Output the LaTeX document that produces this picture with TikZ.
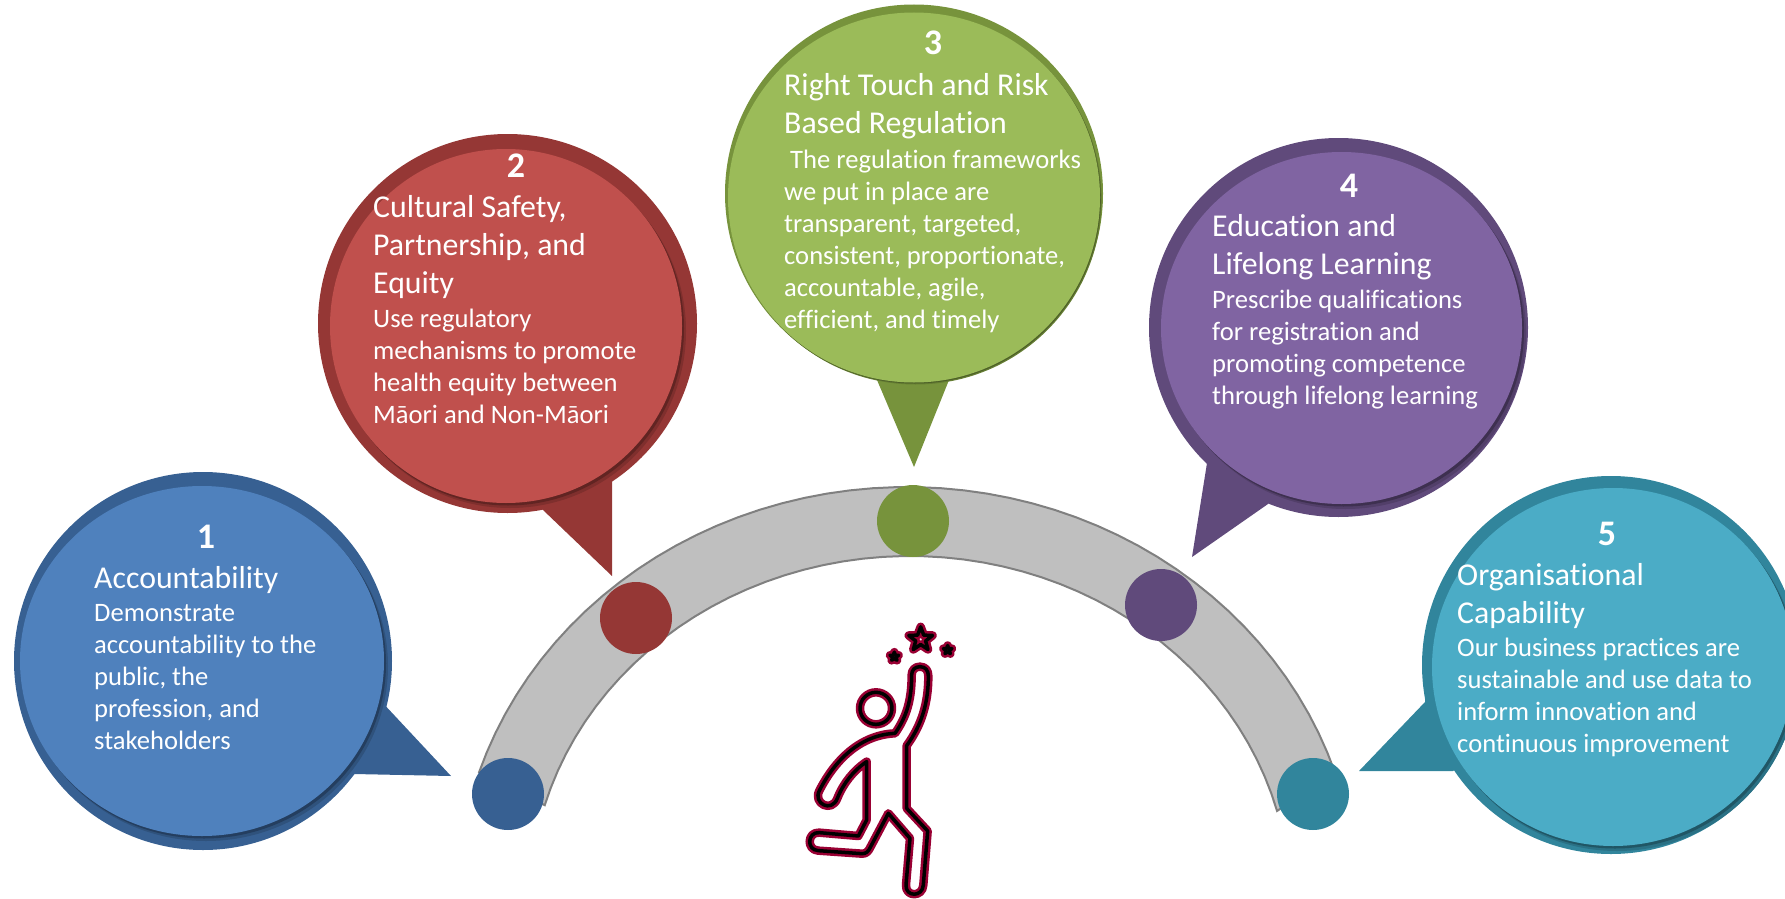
\documentclass[tikz,border=0pt]{standalone}
\usepackage{fontspec}
\usepackage{xcolor}
\setmainfont[Ligatures=NoCommon]{Carlito}
\usetikzlibrary{shapes}

\definecolor{blueFill}{HTML}{4F81BD}
\definecolor{blueEdge}{HTML}{376092}
\definecolor{redFill}{HTML}{C0504D}
\definecolor{redEdge}{HTML}{953735}
\definecolor{greenFill}{HTML}{9BBB59}
\definecolor{greenEdge}{HTML}{77933C}
\definecolor{purpleFill}{HTML}{8064A2}
\definecolor{purpleEdge}{HTML}{604A7B}
\definecolor{tealFill}{HTML}{4BACC6}
\definecolor{tealEdge}{HTML}{31859C}
\definecolor{figRed}{HTML}{990033}

\tikzset{
    bubble/.style={ellipse, inner sep=0pt, outer sep=0pt},
    dot/.style={circle, inner sep=0pt, outer sep=0pt, minimum size=72pt},
    num/.style={text=white, inner sep=0pt, anchor=base, font=\fontsize{36}{38}\selectfont\bfseries},
    heading/.style={text=white, inner sep=0pt, anchor=base west, align=left, font=\fontsize{31.8}{38}\selectfont},
    para/.style={text=white, inner sep=0pt, anchor=base west, align=left, font=\fontsize{26.6}{32}\selectfont},
    figline/.style={draw=figRed, double=black, double distance=3.5pt, line width=2.5pt, line join=round},
}

\begin{document}
\begin{tikzpicture}[x=1pt, y=-1pt]
    \useasboundingbox (0,0) rectangle (1785,899);
    \clip (0,0) rectangle (1785,899);

    % arch
    \fill[fill=gray!50!white, draw=gray, line width=2pt]
        plot[domain=162:18, samples=50] ({907+450*cos(\x)},{900-413*sin(\x)})
        -- plot[domain=15:164, samples=50] ({910+380*cos(\x)},{900-344*sin(\x)}) -- cycle;

    % tails
    \fill[blueEdge] (370,690) -- (387.5,708) -- (451,776) -- (354,774) -- cycle;
    \fill[redEdge] (543,500) -- (543,510) -- (612,576) -- (612,470) -- cycle;
    \fill[greenEdge] (877,370) -- (877,380) -- (914,467) -- (949,380) -- (949,370) -- cycle;
    \fill[purpleEdge] (1207,440) -- (1207,463) -- (1192,557) -- (1268,504) -- (1280,480) -- cycle;
    \fill[tealEdge] (1425,690) -- (1425,702) -- (1359,771) -- (1453,771) -- (1470,760) -- cycle;

    % bubbles, outer ring then shaded rim then face
    \foreach \n/\col/\ox/\oy/\ow/\oh/\ix/\iy/\iw/\ih/\rim in {
        1/blue/203/661/378/378/202/661/364/350/1,
        2/red/507.5/323.5/379/379/506/326/352/354/1,
        3/green/914/193.5/378/378/914/197.5/372/370/0.4,
        4/purple/1338.5/327.5/379/379/1341.5/328/361/352/1,
        5/teal/1611/665/378/378/1613/667/362/358/1}{
        \node[bubble, fill=\col Edge, minimum width=\ow pt, minimum height=\oh pt] (outer\n) at (\ox,\oy) {};
        \node[bubble, fill=\col Edge!85!black, minimum width=\iw pt, minimum height=\ih pt] (rimA\n) at (\ix+4*\rim,\iy+5*\rim) {};
        \node[bubble, fill=\col Edge!65!black, minimum width=\iw pt, minimum height=\ih pt] (rimB\n) at (\ix+2*\rim,\iy+2.5*\rim) {};
        \node[bubble, fill=\col Fill, minimum width=\iw pt, minimum height=\ih pt] (face\n) at (\ix,\iy) {};
    }

    % dots on the arch
    \node[dot, fill=blueEdge] (dot1) at (508,794) {};
    \node[dot, fill=redEdge] (dot2) at (636,618) {};
    \node[dot, fill=greenEdge] (dot3) at (913,521) {};
    \node[dot, fill=purpleEdge] (dot4) at (1161,605) {};
    \node[dot, fill=tealEdge] (dot5) at (1313,794) {};

    % texts
    \node[num] (num1) at (206,548) {1};
    \node[heading] (head1) at (94,588) {Accountability};
    \node[para] (body1) at (94,749) {Demonstrate\\accountability to the\\public, the\\profession, and\\stakeholders};

    \node[num] (num2) at (516,177) {2};
    \node[heading] (head2) at (373,293) {Cultural Safety,\\Partnership, and\\Equity};
    \node[para] (body2) at (373,423) {Use regulatory\\mechanisms to promote\\health equity between\\Māori and Non-Māori};

    \node[num] (num3) at (933,55) {3};
    \node[heading] (head3) at (784,133) {Right Touch and Risk\\Based Regulation};
    \node[para] (body3) at (784,328) {\hspace*{6pt}The regulation frameworks\\we put in place are\\transparent, targeted,\\consistent, proportionate,\\accountable, agile,\\efficient, and timely};

    \node[num] (num4) at (1349,197) {4};
    \node[heading] (head4) at (1212,274) {Education and\\Lifelong Learning};
    \node[para] (body4) at (1212,404) {Prescribe qualifications\\for registration and\\promoting competence\\through lifelong learning};

    \node[num] (num5) at (1607,545) {5};
    \node[heading] (head5) at (1457,623) {Organisational\\Capability};
    \node[para] (body5) at (1457,752) {Our business practices are\\sustainable and use data to\\inform innovation and\\continuous improvement};

    % figure reaching for the stars
    \begin{scope}[shift={(780,600)}, x=0.3333pt, y=-0.3333pt]
        \draw[figline] (288,325) circle (16pt);
        \draw[figline] (420,200) .. controls (437,200) and (445,212) .. (445,228)
            .. controls (445,310) and (425,375) .. (380,437)
            -- (380,625) -- (443,693) -- (430,855)
            .. controls (428,892) and (376,892) .. (378,855)
            -- (390,715) -- (325,640) -- (272,740)
            .. controls (265,755) and (258,762) .. (245,761)
            -- (115,752) .. controls (78,750) and (82,695) .. (118,698)
            -- (235,708) -- (260,660) -- (260,485)
            .. controls (220,512) and (190,550) .. (172,595)
            .. controls (155,640) and (98,610) .. (118,572)
            .. controls (165,480) and (240,405) .. (345,400)
            .. controls (380,350) and (395,300) .. (395,225)
            .. controls (395,210) and (405,200) .. (420,200) -- cycle;
        \node[star, star points=5, star point ratio=2.4, inner sep=0pt, minimum size=25pt, figline] (bigstar) at (422,118) {};
        \node[star, star points=5, star point ratio=2.6, inner sep=0pt, minimum size=9pt, figline] (leftstar) at (343,170) {};
        \node[star, star points=5, star point ratio=2.6, inner sep=0pt, minimum size=9pt, figline] (rightstar) at (503,150) {};
    \end{scope}
\end{tikzpicture}
\end{document}
